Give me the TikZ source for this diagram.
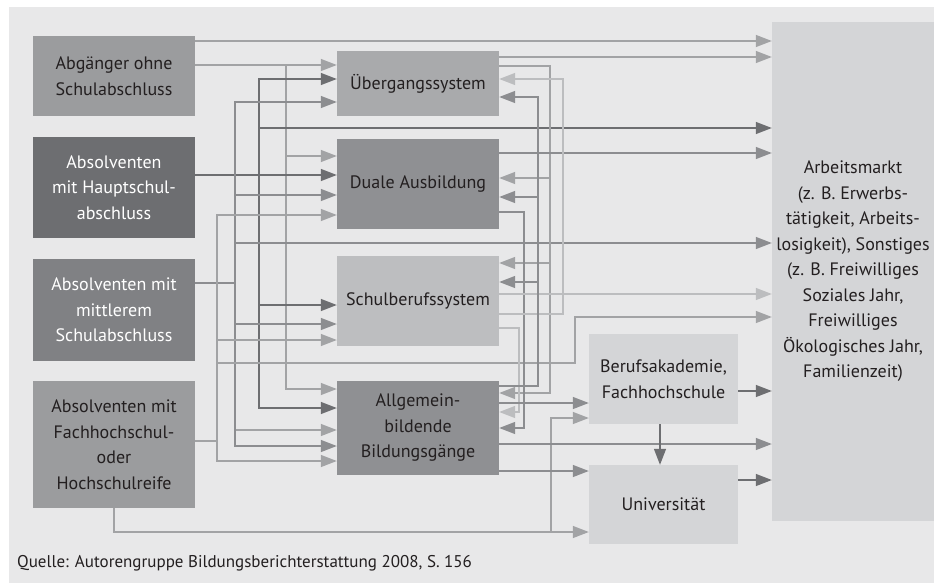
\documentclass[tikz,border=0pt]{standalone}
\usepackage{fontspec}
\setmainfont{PT Sans}
\usetikzlibrary{arrows.meta}
\definecolor{bggray}{HTML}{E8E8E9}
\definecolor{boxlight}{HTML}{D4D5D7}
\definecolor{boxsbs}{HTML}{BDBEC0}
\definecolor{boxueb}{HTML}{A9AAAC}
\definecolor{boxmid}{HTML}{8F9093}
\definecolor{boxabg}{HTML}{9B9C9E}
\definecolor{boxmit}{HTML}{808184}
\definecolor{boxdark}{HTML}{6D6E71}
\definecolor{txtdark}{HTML}{231F20}
\definecolor{lnlight}{HTML}{BCBDBF}
\definecolor{lnpale}{HTML}{A2A3A5}
\definecolor{lnmid}{HTML}{8C8D90}
\definecolor{lndark}{HTML}{6D6E71}

\begin{document}
\begin{tikzpicture}[x=1pt,y=-1pt]

\tikzset{box/.style = {shape=rectangle,inner sep=0pt,align=center,text=txtdark,font=\fontsize{18}{25.5}\selectfont}}
\tikzset{edge/.style = {-{Triangle[length=16pt,width=12pt]},line width=1.3pt}}

\useasboundingbox (0,0) rectangle (934,583);
\fill[bggray] (9,7) rectangle (934,583);

%left column
\node[box,fill=boxabg,minimum width=162pt,minimum height=80pt] (abg) at (114,76) {Abgänger ohne\\Schulabschluss};
\node[box,fill=boxdark,text=white,minimum width=162pt,minimum height=101pt] (hau) at (114,187.5) {Absolventen\\mit Hauptschul-\\abschluss};
\node[box,fill=boxmit,text=white,minimum width=162pt,minimum height=102pt] (mit) at (114,310) {Absolventen mit\\mittlerem\\Schulabschluss};
\node[box,fill=boxabg,minimum width=162pt,minimum height=127pt] (fhr) at (114,444.5) {Absolventen mit\\Fachhochschul-\\oder\\Hochschulreife};

%middle column
\node[box,fill=boxueb,minimum width=162pt,minimum height=65pt] (ueb) at (418,83.5) {Übergangssystem};
\node[box,fill=boxmid,minimum width=162pt,minimum height=90pt] (dua) at (418,184) {Duale Ausbildung};
\node[box,fill=boxsbs,minimum width=162pt,minimum height=90pt] (sbs) at (418,301) {Schulberufssystem};
\node[box,fill=boxmid,minimum width=162pt,minimum height=94pt] (agb) at (418,428) {Allgemein-\\bildende\\Bildungsgänge};

%right column
\node[box,fill=boxlight,minimum width=149pt,minimum height=90pt] (bak) at (663.5,379) {Berufsakademie,\\Fachhochschule};
\node[box,fill=boxlight,minimum width=149pt,minimum height=79pt] (uni) at (663.5,504.5) {Universität};
\node[box,fill=boxlight,minimum width=162pt,minimum height=499pt] (arb) at (853,271.5) {Arbeitsmarkt\\(z. B. Erwerbs-\\tätigkeit, Arbeits-\\losigkeit), Sonstiges\\(z. B. Freiwilliges\\Soziales Jahr,\\Freiwilliges\\Ökologisches Jahr,\\Familienzeit)};

\node[anchor=west,inner sep=0pt,text=txtdark,font=\fontsize{17}{20}\selectfont] (src) at (17,563) {Quelle: Autorengruppe Bildungsberichterstattung 2008, S. 156};

%Abgaenger
\draw[edge,lnpale] (abg.east |- 0,41) -- (arb.west |- 0,41);
\draw[edge,lnpale] (abg.east |- 0,65) -- (ueb.west |- 0,65);
\draw[edge,lnpale] (abg.east |- 0,65) -| (286,156) -- (dua.west |- 0,156);
\draw[edge,lnpale] (abg.east |- 0,65) -| (286,389) -- (agb.west |- 0,389);

%Hauptschule
\draw[edge,lndark] (hau.east |- 0,175) -- (dua.west |- 0,175);
\draw[edge,lndark] (hau.east |- 0,175) -| (259,79) -- (ueb.west |- 0,79);
\draw[edge,lndark] (hau.east |- 0,175) -| (259,128) -- (arb.west |- 0,128);
\draw[edge,lndark] (hau.east |- 0,175) -| (259,305) -- (sbs.west |- 0,305);
\draw[edge,lndark] (hau.east |- 0,175) -| (259,408) -- (agb.west |- 0,408);

%mittlerer Abschluss
\draw[edge,lnmid] (mit.east |- 0,283) -| (235,102) -- (ueb.west |- 0,102);
\draw[edge,lnmid] (mit.east |- 0,283) -| (235,195) -- (dua.west |- 0,195);
\draw[edge,lnmid] (mit.east |- 0,283) -| (235,243) -- (arb.west |- 0,243);
\draw[edge,lnmid] (mit.east |- 0,283) -| (235,324) -- (sbs.west |- 0,324);
\draw[edge,lnpale] (mit.east |- 0,283) -| (235,430) -- (agb.west |- 0,430);
\draw[edge,lnmid] (mit.east |- 0,283) -| (235,446) -- (agb.west |- 0,446);

%Hochschulreife
\draw[edge,lnpale] (fhr.east |- 0,441) -| (217,215) -- (dua.west |- 0,215);
\draw[edge,lnpale] (fhr.east |- 0,441) -| (217,340) -- (sbs.west |- 0,340);
\draw[edge,lnpale] (fhr.east |- 0,441) -| (217,363) -| (575,317) -- (arb.west |- 0,317);
\draw[edge,lnpale] (fhr.east |- 0,441) -| (217,461) -- (agb.west |- 0,461);
\draw[edge,lnpale] (fhr.south) |- (uni.west |- 0,532);
\draw[edge,lnpale] (fhr.south) |- (551,532) |- (bak.west |- 0,418);

%Uebergangssystem
\draw[edge,lnpale] (ueb.east |- 0,57) -- (arb.west |- 0,57);
\draw[edge,lnpale] (ueb.east |- 0,66) -| (550,178) -- (dua.east |- 0,178);
\draw[edge,lnpale] (ueb.east |- 0,66) -| (550,263) -- (sbs.east |- 0,263);
\draw[edge,lnpale] (ueb.east |- 0,66) -| (550,393) -- (agb.east |- 0,393);

%Duale Ausbildung
\draw[edge,lnmid] (dua.east |- 0,153) -- (arb.west |- 0,153);
\draw[edge,lnmid] (dua.east |- 0,212) -| (524,428) -- (agb.east |- 0,428);

%Schulberufssystem
\draw[edge,lnlight] (sbs.east |- 0,294) -- (arb.west |- 0,294);
\draw[edge,lnlight] (sbs.east |- 0,314) -| (563,79) -- (ueb.east |- 0,79);
\draw[edge,lnlight] (sbs.east |- 0,328) -| (519,412) -- (agb.east |- 0,412);

%Allgemeinbildung
\draw[edge,lnmid] (agb.east |- 0,386) -| (538,97) -- (ueb.east |- 0,97);
\draw[edge,lnmid] (agb.east |- 0,386) -| (538,197) -- (dua.east |- 0,197);
\draw[edge,lnmid] (agb.east |- 0,386) -| (538,282) -- (sbs.east |- 0,282);
\draw[edge,lnmid] (agb.east |- 0,403) -- (bak.west |- 0,403);
\draw[edge,lnmid] (agb.east |- 0,444) -- (arb.west |- 0,444);
\draw[edge,lnmid] (agb.east |- 0,471) -- (uni.west |- 0,471);

%Hochschulen
\draw[edge,lndark] (bak.east |- 0,391) -- (arb.west |- 0,391);
\draw[edge,lndark] (bak.south -| 660,0) -- (uni.north -| 660,0);
\draw[edge,lndark] (uni.east |- 0,480) -- (arb.west |- 0,480);

\end{tikzpicture}
\end{document}
